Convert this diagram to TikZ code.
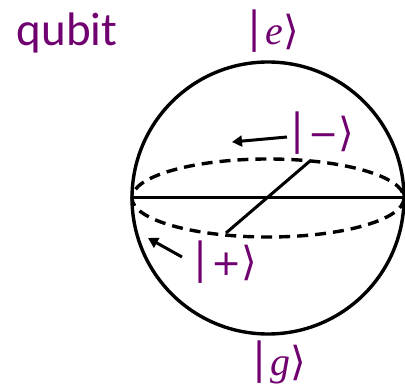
\documentclass[tikz,border=0pt]{standalone}
\usepackage{fontspec}
\setmainfont{Carlito}
\newfontfamily\djfont{DejaVu Sans}
\newfontfamily\serfont{Liberation Serif}
\usetikzlibrary{arrows.meta}
\definecolor{qpurple}{RGB}{112,0,112}
\newcommand{\rang}{{\djfont\fontsize{40}{40}\selectfont ⟩}}
\newcommand{\kt}[1]{|#1\rang}
\begin{document}
\begin{tikzpicture}[x=1pt,y=-1pt,
  lbl/.style={text=qpurple,inner sep=0pt,font=\fontsize{48}{48}\selectfont},
  thick line/.style={line width=3.4pt},
  arr/.style={line width=3pt,-{Triangle[length=10pt,width=11pt]}}]
\useasboundingbox (0,0) rectangle (405,385);
\node[lbl,font=\fontsize{47}{47}\selectfont,anchor=base] (q) at (67,46) {qubit};
\node[lbl] (e) at (271,31) {\kt{{\serfont\itshape\fontsize{40}{40}\selectfont e}}};
\node[lbl] (g) at (277,362) {\kt{{\serfont\itshape\fontsize{40}{40}\selectfont g}}};
\node[lbl] (m) at (320,133) {\kt{{\djfont\fontsize{36}{36}\selectfont −}}};
\node[lbl] (p) at (223,262) {\kt{{\djfont\fontsize{36}{36}\selectfont +}}};
\coordinate (c) at (268,198);
\draw[thick line] (c) circle [radius=136];
\draw[thick line,dashed,dash pattern=on 11pt off 7pt] (c) ellipse [x radius=136, y radius=39];
\coordinate (l) at (132,198);
\coordinate (r) at (404,198);
\draw[line width=3pt] (l) -- (r);
\coordinate (d1) at (310,161);
\coordinate (d2) at (226,233);
\draw[line width=3pt] (d1) -- (d2);
\coordinate (ma) at (232,142);
\coordinate (pa) at (148,238);
\draw[arr] (287,137) -- (ma);
\draw[arr] (182,257) -- (pa);
\end{tikzpicture}
\end{document}
